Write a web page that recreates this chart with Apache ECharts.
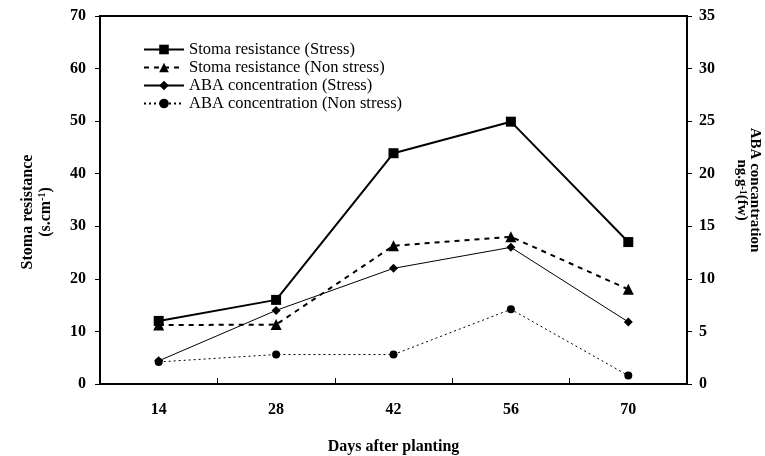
<!DOCTYPE html>
<html>
<head>
<meta charset="utf-8">
<script src="https://cdn.jsdelivr.net/npm/echarts@6/dist/echarts.min.js"></script>
<style>html,body{margin:0;padding:0;background:#fff}#c{width:765px;height:456px}</style>
</head>
<body>
<div id="c"></div>
<script>
const categories = ['14', '28', '42', '56', '70'];
const stomaStress = [12, 16, 43.9, 49.9, 27];
const stomaNonStress = [11.2, 11.3, 26.3, 28.0, 18.0];
const abaStress = [2.2, 7.0, 11.0, 13.0, 5.9];
const abaNonStress = [2.1, 2.8, 2.8, 7.1, 0.8];
const seriesNames = ['Stoma resistance (Stress)', 'Stoma resistance (Non stress)', 'ABA concentration (Stress)', 'ABA concentration (Non stress)'];

const FONT = '"Liberation Serif", "Times New Roman", serif';
const chart = echarts.init(document.getElementById('c'), null, {renderer: 'canvas'});
const axisLabelStyle = {color: '#000', fontFamily: FONT, fontWeight: 'bold', fontSize: 16};
chart.setOption({
  animation: false,
  backgroundColor: '#fff',
  textStyle: {fontFamily: FONT, color: '#000'},
  grid: {left: 100, right: 78, top: 16, bottom: 72, show: true, borderColor: '#000', borderWidth: 2, containLabel: false, outerBoundsMode: 'none'},
  legend: {
    orient: 'vertical', left: 138, top: 36, itemWidth: 40, itemHeight: 12, itemGap: 1,
    textStyle: {fontFamily: FONT, fontSize: 16.5, color: '#000', lineHeight: 16},
    data: seriesNames
  },
  xAxis: {
    type: 'category', data: categories, boundaryGap: true,
    name: 'Days after planting', nameLocation: 'middle', nameGap: 55,
    nameTextStyle: {fontFamily: FONT, fontWeight: 'bold', fontSize: 16, color: '#000'},
    axisLine: {lineStyle: {color: '#000', width: 2}},
    axisTick: {show: true, length: 6, inside: true, lineStyle: {color: '#000', width: 1}},
    axisLabel: Object.assign({margin: 18}, axisLabelStyle)
  },
  yAxis: [{
    type: 'value', min: 0, max: 70, interval: 10,
    name: '{a|Stoma resistance}\n{a|(s.cm}{s|-1}{a|)}', nameLocation: 'middle', nameRotate: 90, nameGap: 45,
    nameTextStyle: {padding: [0, 24, 0, 0], rich: {
      a: {fontFamily: FONT, fontWeight: 'bold', fontSize: 16, color: '#000', lineHeight: 18},
      s: {fontFamily: FONT, fontWeight: 'bold', fontSize: 10, color: '#000', verticalAlign: 'top', lineHeight: 18}
    }},
    axisLine: {show: true, lineStyle: {color: '#000', width: 2}},
    axisTick: {show: true, length: 5, lineStyle: {color: '#000', width: 1}},
    splitLine: {show: false},
    axisLabel: Object.assign({margin: 14}, axisLabelStyle)
  }, {
    type: 'value', min: 0, max: 35, interval: 5, position: 'right',
    name: '{a|ABA concantration}\n{a|ng.g}{s|-1}{a|(fw)}', nameLocation: 'middle', nameRotate: -90, nameGap: 48,
    nameTextStyle: {padding: [0, 20, 0, 0], rich: {
      a: {fontFamily: FONT, fontWeight: 'bold', fontSize: 15, color: '#000', lineHeight: 13},
      s: {fontFamily: FONT, fontWeight: 'bold', fontSize: 10, color: '#000', verticalAlign: 'top', lineHeight: 13}
    }},
    axisLine: {show: true, lineStyle: {color: '#000', width: 2}},
    axisTick: {show: true, length: 5, lineStyle: {color: '#000', width: 1}},
    splitLine: {show: false},
    axisLabel: Object.assign({margin: 12}, axisLabelStyle)
  }],
  series: [{
    name: seriesNames[0], type: 'line', yAxisIndex: 0, data: stomaStress,
    symbol: 'rect', symbolSize: 10, color: '#000',
    lineStyle: {color: '#000', width: 2, type: 'solid'}, itemStyle: {color: '#000'}, z: 5
  }, {
    name: seriesNames[1], type: 'line', yAxisIndex: 0, data: stomaNonStress,
    symbol: 'triangle', symbolSize: 11, color: '#000',
    lineStyle: {color: '#000', width: 2, type: [5, 5]}, itemStyle: {color: '#000'}, z: 4
  }, {
    name: seriesNames[2], type: 'line', yAxisIndex: 1, data: abaStress,
    symbol: 'diamond', symbolSize: 9, color: '#000',
    lineStyle: {color: '#000', width: 1, type: 'solid'}, itemStyle: {color: '#000'}, z: 3
  }, {
    name: seriesNames[3], type: 'line', yAxisIndex: 1, data: abaNonStress,
    symbol: 'circle', symbolSize: 8, color: '#000',
    lineStyle: {color: '#000', width: 1, type: [2, 3]}, itemStyle: {color: '#000'}, z: 2
  }]
});
</script>
</body>
</html>
